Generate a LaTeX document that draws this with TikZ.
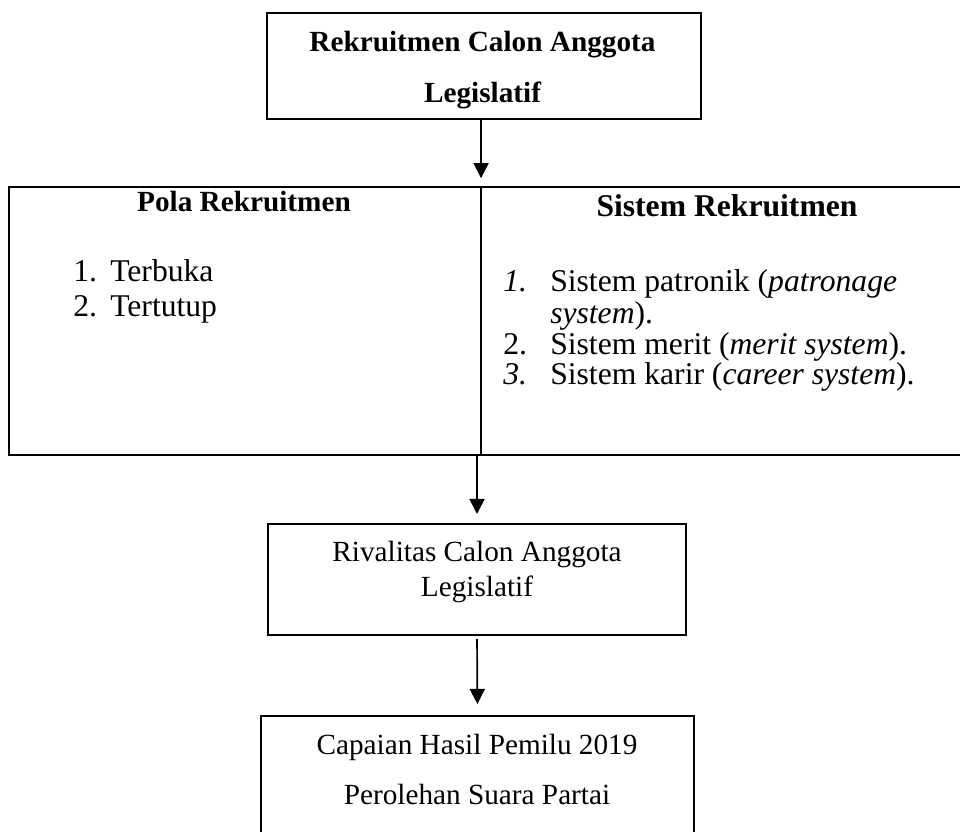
\documentclass[tikz,border=0pt]{standalone}
\usepackage{fontspec}
\setmainfont{Liberation Serif}
\usetikzlibrary{arrows.meta,positioning}

\newcommand{\txtsize}{\fontsize{20.8}{24}\selectfont}
\newcommand{\listsize}{\fontsize{22.5}{26}\selectfont}

\tikzset{
  box/.style={draw=black, line width=0.9pt, inner sep=0pt, outer sep=0pt},
  flow/.style={black, line width=1.2pt, -{Triangle[width=10.7pt,length=10.7pt]}},
  txt/.style={inner sep=0pt, anchor=base, font=\txtsize},
  item/.style={inner sep=0pt, anchor=base west, font=\listsize},
}

\begin{document}
\begin{tikzpicture}[x=0.025cm, y=-0.025cm]
\useasboundingbox (0,0) rectangle (960,832);
\clip (0,0) rectangle (960,832);
% boxes
\node [box, line width=1.2pt, minimum width=10.85cm, minimum height=2.65cm] (recruit) at (484,66) {};
\node [box, line width=1.5pt, minimum width=11.8cm, minimum height=6.7cm] (pola) at (245,321) {};
\node [box, line width=1.5pt, minimum width=12.8cm, minimum height=6.7cm, anchor=west] (sistem) at (pola.east) {};
\node [box, minimum width=10.45cm, minimum height=2.775cm] (rival) at (477,579.5) {};
\node [box, minimum width=10.825cm, minimum height=4cm, anchor=north] (capai) at (477.5,716) {};
% texts
\node [txt, font=\txtsize\bfseries] (recruit1) at (482.5,52) {Rekruitmen Calon Anggota};
\node [txt, font=\txtsize\bfseries] (recruit2) at (482.5,103) {Legislatif};
\node [txt, font=\txtsize\bfseries] (polahead) at (244,212) {Pola Rekruitmen};
\node [txt, font=\listsize\bfseries] (sistemhead) at (727,217) {Sistem Rekruitmen};
\node [item] (num1) at (73,282) {1.};
\node [item] (terbuka) at (110,282) {Terbuka};
\node [item] (num2) at (73,317) {2.};
\node [item] (tertutup) at (110,317) {Tertutup};
\node [item] (snum1) at (503,292) {\textit{1.}};
\node [item] (patronik) at (550,292) {Sistem patronik (\textit{patronage}};
\node [item] (patronik2) at (550,324) {\textit{system}).};
\node [item] (snum2) at (503,355) {2.};
\node [item] (merit) at (550,355) {Sistem merit (\textit{merit system}).};
\node [item] (snum3) at (503,385) {\textit{3.}};
\node [item] (karir) at (550,385) {Sistem karir (\textit{career system}).};
\node [txt] (rival1) at (477,562) {Rivalitas Calon Anggota};
\node [txt] (rival2) at (477,597) {Legislatif};
\node [txt] (capai1) at (477,754) {Capaian Hasil Pemilu 2019};
\node [txt] (capai2) at (477,804) {Perolehan Suara Partai};
% arrows
\draw [flow, shorten >=0.22cm] (pola.north east |- recruit.south) -- (pola.north east);
\draw [flow, shorten >=0.25cm] (rival.north |- pola.south) -- (rival.north);
\draw [flow, shorten <=0.1cm, shorten >=0.3cm] (rival.south) -- (capai.north);
\end{tikzpicture}
\end{document}
